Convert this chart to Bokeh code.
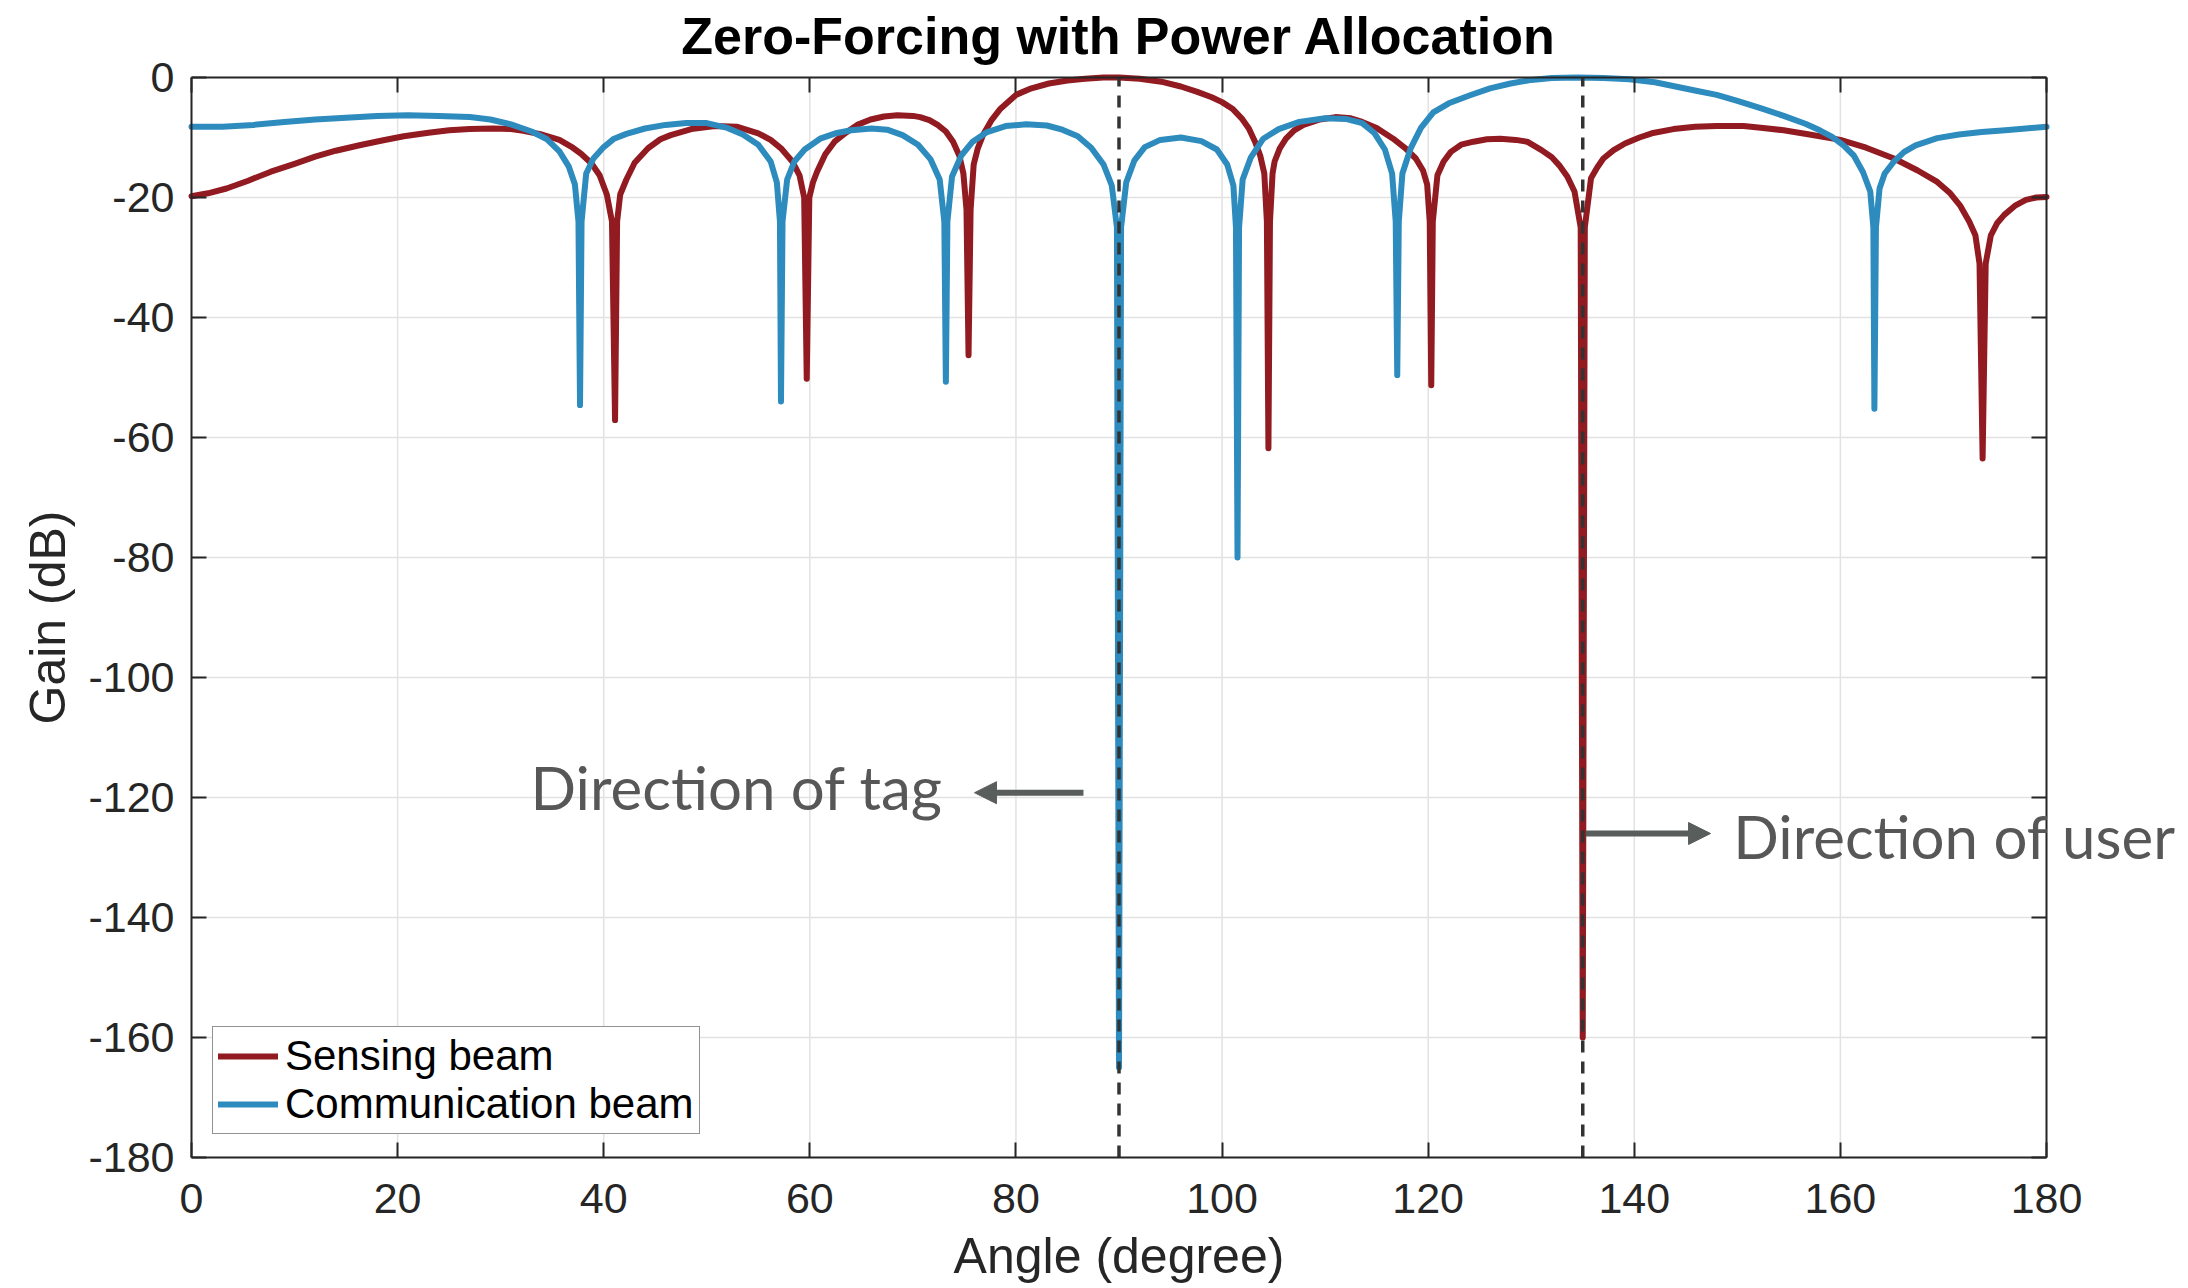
from bokeh.plotting import figure
from bokeh.models import (Range1d, LinearAxis, FixedTicker, Label, Arrow,
                          NormalHead, Legend, LegendItem, CustomJSTickFormatter)
from bokeh.embed import file_html
from bokeh.resources import INLINE

# ---------------- data ----------------
sens_angle = [0, 1.6, 3.4, 5.5, 7.7, 10, 12, 14, 16.3, 18.5, 20.6, 23, 25, 27, 29.2, 31, 32.2, 34,
              35.7, 37, 37.8, 38.8, 39.6, 40.3, 40.8, 41.1, 41.3, 41.6, 42.2, 43, 44.3, 45.5, 46.5,
              48.5, 50.8, 52.9, 55, 56.2, 57.2, 58.3, 59.0, 59.45, 59.7, 59.95, 60.3, 60.7, 61.5,
              62.4, 63.5, 64.6, 65.9, 67.2, 68.5, 70, 70.7, 71.6, 72.4, 73.2, 73.9, 74.5, 74.9,
              75.2, 75.4, 75.6, 75.9, 76.3, 76.8, 77.6, 78.5, 80, 81.5, 83.2, 85, 86.7, 88.5, 90,
              92, 94.1, 96, 97.6, 99, 100, 101, 101.9, 102.6, 103.2, 103.7, 104.1, 104.35, 104.5,
              104.65, 104.9, 105.1, 105.6, 106.2, 107, 107.9, 109.5, 111, 112.5, 113.6, 115, 116.6,
              117.8, 118.8, 119.5, 119.9, 120.15, 120.3, 120.45, 120.9, 121.5, 122.2, 123.2, 124.4,
              125.7, 127, 128.5, 129.6, 131, 132, 132.7, 133.5, 134.2, 134.8, 135, 135.2, 135.8,
              136.4, 137, 138, 139.1, 140.5, 141.7, 143.8, 145.9, 148, 150.6, 152.5, 154.5, 157,
              160, 162.5, 165.2, 167.5, 169.4, 170.6, 171.6, 172.5, 173.1, 173.5, 173.8, 174.1,
              174.6, 175.2, 175.9, 177, 178, 179, 180]
sens_gain = [-19.8, -19.3, -18.5, -17.2, -15.7, -14.4, -13.2, -12.2, -11.3, -10.5, -9.8, -9.2, -8.8,
             -8.6, -8.5, -8.6, -8.9, -9.5, -10.4, -11.7, -12.7, -14.3, -16.3, -19.5, -24, -57.1,
             -24, -19.5, -17.0, -14.2, -11.8, -10.3, -9.6, -8.6, -8.1, -8.2, -9.3, -10.4, -11.8,
             -14, -16.3, -20, -50.2, -20, -17.5, -15.7, -12.8, -10.7, -9.2, -7.9, -7.0, -6.5, -6.3,
             -6.4, -6.6, -7.1, -7.9, -9.0, -10.7, -13, -16, -22, -46.3, -22, -14.5, -11.8, -9.6,
             -7.2, -5.2, -2.9, -1.8, -1.0, -0.5, -0.2, 0.0, 0.0, -0.2, -0.7, -1.5, -2.4, -3.3,
             -4.1, -5.2, -6.8, -8.5, -10.7, -13, -16, -24, -61.8, -24, -16, -14, -11.8, -10.2,
             -8.8, -7.9, -7.0, -6.6, -6.8, -7.4, -8.4, -10.2, -11.8, -13.5, -15.5, -17.8, -24,
             -51.3, -24, -16.3, -14.0, -12.4, -11.2, -10.7, -10.3, -10.2, -10.4, -10.7, -12.1,
             -13.3, -14.6, -16.5, -19, -25, -160, -25, -16.8, -15.0, -13.5, -12.1, -11.0, -10.0,
             -9.3, -8.6, -8.2, -8.1, -8.1, -8.4, -8.8, -9.5, -10.4, -11.7, -13.5, -15.5, -17.4,
             -19.2, -21.3, -24, -26.3, -31, -63.5, -31, -26.3, -24.3, -22.9, -21.3, -20.4, -20.0,
             -19.9]

comm_angle = [0, 3, 6, 9, 12, 15, 18, 21, 24, 27, 29, 31, 33, 34.5, 35.7, 36.6, 37.2, 37.55, 37.7,
              37.85, 38.3, 39, 40, 41, 42.2, 44, 46, 48, 50, 52, 53.5, 55, 56.2, 56.8, 57.1, 57.2,
              57.35, 57.8, 58.5, 59.5, 61, 62.5, 64, 66, 67.5, 69, 70.5, 71.7, 72.6, 73.05, 73.2,
              73.35, 73.8, 74.7, 75.8, 77.2, 79, 81, 83, 84.5, 86, 87.3, 88.5, 89.3, 89.8, 90,
              90.2, 90.7, 91.5, 92.5, 94, 96, 98, 99.5, 100.5, 101.1, 101.35, 101.5, 101.65, 102,
              102.8, 104, 105.5, 107.5, 110, 112, 113.6, 114.8, 115.8, 116.5, 116.85, 117.0,
              117.15, 117.5, 118.3, 119.3, 120.5, 122, 124, 126, 128, 130, 132, 134.5, 137, 139.5,
              142, 144, 146, 148, 150, 152.4, 154.5, 156.6, 158, 159.2, 160.3, 161.3, 162.2, 162.9,
              163.2, 163.3, 163.45, 163.8, 164.3, 165.2, 166.2, 167.3, 169.4, 171.5, 173.7, 176,
              178, 180]
comm_gain = [-8.2, -8.2, -7.9, -7.4, -7.0, -6.7, -6.4, -6.3, -6.4, -6.6, -7.0, -7.8, -9.0, -10.3,
             -12.3, -14.8, -17.8, -24, -54.6, -24, -16.0, -13.5, -11.6, -10.2, -9.4, -8.5, -7.9,
             -7.6, -7.6, -8.4, -9.5, -11.2, -14.0, -17.5, -24, -54, -24, -17, -14.0, -12.0, -10.2,
             -9.3, -8.8, -8.5, -8.7, -9.6, -11.2, -13.6, -17, -24, -50.7, -24, -16.5, -13.0, -10.7,
             -9.1, -8.1, -7.8, -8.0, -8.7, -9.8, -11.7, -14.5, -18, -25, -165, -25, -17.5, -13.8,
             -11.6, -10.4, -10.0, -10.6, -12.0, -14.5, -18, -25, -80, -25, -17, -13.3, -10.2,
             -8.6, -7.4, -6.8, -6.9, -7.6, -9.3, -12, -16, -24, -49.6, -24, -16, -11.8, -8.4,
             -5.8, -4.3, -3.0, -1.8, -1.0, -0.4, -0.1, 0.0, -0.1, -0.3, -0.8, -1.5, -2.2, -2.9,
             -3.9, -5.2, -6.4, -7.7, -8.8, -9.9, -11.3, -13, -15.8, -19, -25, -55.2, -25, -18.5,
             -16.0, -14.0, -12.4, -11.3, -10.1, -9.5, -9.1, -8.8, -8.5, -8.2]

x_ticks = [0, 20, 40, 60, 80, 100, 120, 140, 160, 180]
y_ticks = [-180, -160, -140, -120, -100, -80, -60, -40, -20, 0]
X_MIN, X_MAX = 0, 180
Y_MIN, Y_MAX = -180, 0
tag_angle = 90
user_angle = 135

# ---------------- layout (canvas pixels) ----------------
W, H = 2188, 1288
FL, FR, FT, FB = 191, 2046, 77, 1157      # where the axes box sits on the canvas
ppx = (FR - FL) / (X_MAX - X_MIN)
ppy = (FB - FT) / (Y_MAX - Y_MIN)
x_lo = X_MIN - FL / ppx
x_hi = X_MAX + (W - FR) / ppx
y_hi = Y_MAX + FT / ppy
y_lo = Y_MIN - (H - FB) / ppy

RED = "#921B21"
BLUE = "#2E8BBE"
AX = "#262626"
FONT = "Liberation Sans"

p = figure(width=W, height=H, output_backend="svg", toolbar_location=None,
           x_range=Range1d(x_lo, x_hi), y_range=Range1d(y_lo, y_hi),
           x_axis_location=None, y_axis_location=None, min_border=0)
p.title.visible = False
p.background_fill_color = "white"
p.border_fill_color = "white"
p.outline_line_color = None
p.xgrid.visible = False
p.ygrid.visible = False

fmt = CustomJSTickFormatter(code="return tick.toString();")
blank = CustomJSTickFormatter(code="return '';")


def style_axis(ax):
    ax.axis_line_color = AX
    ax.axis_line_width = 2
    ax.major_tick_line_color = AX
    ax.major_tick_line_width = 2
    ax.major_tick_in = 15
    ax.major_tick_out = 0
    ax.minor_tick_line_color = None


bottom = LinearAxis(ticker=FixedTicker(ticks=x_ticks), formatter=fmt, fixed_location=Y_MIN,
                    bounds=(X_MIN, X_MAX), axis_label="Angle (degree)")
left = LinearAxis(ticker=FixedTicker(ticks=y_ticks), formatter=fmt, fixed_location=X_MIN,
                  bounds=(Y_MIN, Y_MAX), axis_label="Gain (dB)")
top = LinearAxis(ticker=FixedTicker(ticks=x_ticks), formatter=blank, fixed_location=Y_MAX,
                 bounds=(X_MIN, X_MAX))
right = LinearAxis(ticker=FixedTicker(ticks=y_ticks), formatter=blank, fixed_location=X_MAX,
                   bounds=(Y_MIN, Y_MAX))
for ax in (bottom, left, top, right):
    style_axis(ax)
for ax in (bottom, left):
    ax.major_label_text_font = FONT
    ax.major_label_text_font_size = "43px"
    ax.major_label_text_color = AX
    ax.axis_label_text_font = FONT
    ax.axis_label_text_font_size = "50px"
    ax.axis_label_text_font_style = "normal"
    ax.axis_label_text_color = AX
for ax in (top, right):
    ax.major_label_text_font_size = "1px"
    ax.major_label_standoff = 0
bottom.major_label_standoff = 26
bottom.axis_label_standoff = 12
left.major_label_standoff = 17
left.axis_label_standoff = 9
p.add_layout(bottom, "below")
p.add_layout(left, "left")
p.add_layout(top, "above")
p.add_layout(right, "right")

# grid lines, derived from the tick lists
p.segment(x0=x_ticks, y0=[Y_MIN] * len(x_ticks), x1=x_ticks, y1=[Y_MAX] * len(x_ticks),
          line_color="#e2e2e2", line_width=1.5)
p.segment(x0=[X_MIN] * len(y_ticks), y0=y_ticks, x1=[X_MAX] * len(y_ticks), y1=y_ticks,
          line_color="#e2e2e2", line_width=1.5)

r_s = p.line(sens_angle, sens_gain, line_color=RED, line_width=6,
             line_join="round", line_cap="round")
r_c = p.line(comm_angle, comm_gain, line_color=BLUE, line_width=6,
             line_join="round", line_cap="round")

# dashed direction markers
p.segment(x0=[tag_angle, user_angle], y0=[Y_MIN, Y_MIN], x1=[tag_angle, user_angle],
          y1=[Y_MAX, Y_MAX], line_color="#333333", line_width=3.5, line_dash="12 9")

legend = Legend(items=[LegendItem(label="Sensing beam", renderers=[r_s]),
                       LegendItem(label="Communication beam", renderers=[r_c])],
                location=(212, 154))
legend.label_text_font = FONT
legend.label_text_font_size = "42px"
legend.label_text_color = "black"
legend.glyph_width = 60
legend.glyph_height = 40
legend.label_height = 40
legend.label_standoff = 7
legend.padding = 5
legend.spacing = 0
legend.margin = 0
legend.border_line_color = AX
legend.border_line_width = 1.5
legend.background_fill_color = "white"
legend.background_fill_alpha = 1
p.add_layout(legend)

p.add_layout(Label(x=90, y=7.0, text="Zero-Forcing with Power Allocation",
                   text_align="center", text_baseline="alphabetic",
                   text_font=FONT, text_font_style="bold", text_font_size="52px",
                   text_color="black"))

ANN = "#575757"
ARW = "#595d5c"
p.add_layout(Label(x=32.9, y=-118.3, text="Direction of tag", text_font="Lato",
                   text_font_size="60px", text_color=ANN, text_baseline="alphabetic"))
p.add_layout(Label(x=149.6, y=-126.4, text="Direction of user", text_font="Lato",
                   text_font_size="60px", text_color=ANN, text_baseline="alphabetic"))
p.add_layout(Arrow(end=NormalHead(size=22, fill_color=ARW, line_color=ARW),
                   x_start=86.55, y_start=-119.2, x_end=75.98, y_end=-119.2,
                   line_color=ARW, line_width=6))
p.add_layout(Arrow(end=NormalHead(size=22, fill_color=ARW, line_color=ARW),
                   x_start=135.3, y_start=-126.0, x_end=147.4, y_end=-126.0,
                   line_color=ARW, line_width=6))

open("out.html", "w").write(file_html(p, INLINE))
